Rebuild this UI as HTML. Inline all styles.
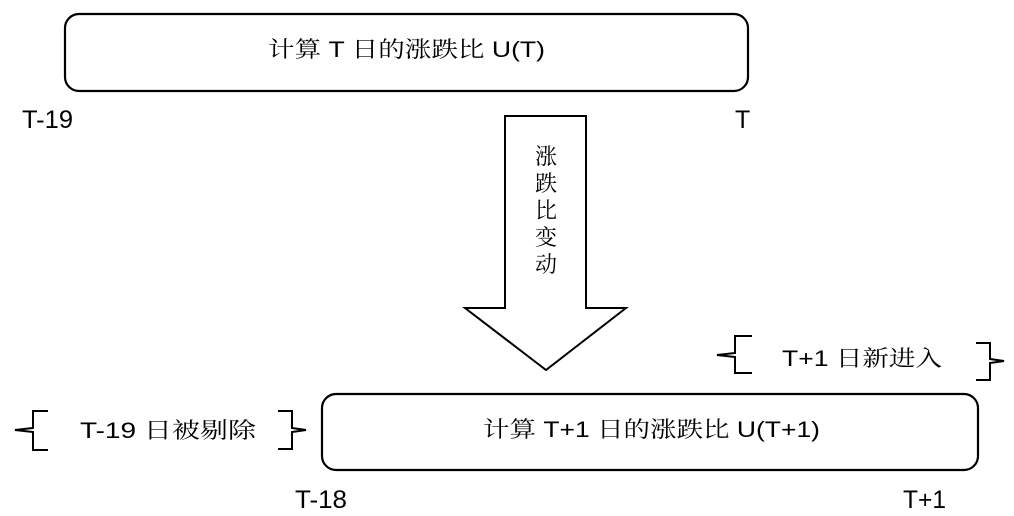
<!DOCTYPE html>
<html><head><meta charset="utf-8"><style>
html,body{margin:0;padding:0;background:#fff;}
svg{display:block;}
text{font-family:"Liberation Sans","Noto Serif CJK SC",sans-serif;font-size:22px;fill:#000;}
.lbl{font-size:25px;}
</style></head><body>
<svg width="1014" height="516" viewBox="0 0 1014 516">
<g fill="none" stroke="#000" stroke-width="2.2">
<rect x="65" y="14" width="683" height="77" rx="14"/>
<rect x="322" y="394" width="656" height="76" rx="14"/>
<polygon points="505,116 586,116 586,308 626,308 546,370 465,308 505,308" stroke-width="2"/>
<path d="M48,411 H33 V428 L15,430 L33,432 V450 H48" stroke-width="2"/>
<path d="M278,411 H292 V428 L306,430 L292,432 V449 H278" stroke-width="2"/>
<path d="M752,336 H735 V353 L717,355 L735,357 V373 H752" stroke-width="2"/>
<path d="M976,343 H990 V359 L1004,361 L990,363 V380 H976" stroke-width="2"/>
</g>
<text x="268" y="57" textLength="277" lengthAdjust="spacingAndGlyphs">计算 T 日的涨跌比 U(T)</text>
<text x="483" y="437" textLength="337" lengthAdjust="spacingAndGlyphs">计算 T+1 日的涨跌比 U(T+1)</text>
<text class="lbl" x="22" y="128" textLength="51" lengthAdjust="spacingAndGlyphs">T-19</text>
<text class="lbl" x="735" y="128">T</text>
<text class="lbl" x="295" y="508" textLength="52" lengthAdjust="spacingAndGlyphs">T-18</text>
<text class="lbl" x="903" y="508" textLength="43" lengthAdjust="spacingAndGlyphs">T+1</text>
<text x="80" y="438" textLength="176" lengthAdjust="spacingAndGlyphs">T-19 日被剔除</text>
<text x="782" y="366" textLength="160" lengthAdjust="spacingAndGlyphs">T+1 日新进入</text>
<g text-anchor="middle">
<text x="546" y="164">涨</text>
<text x="546" y="191">跌</text>
<text x="546" y="218">比</text>
<text x="546" y="245">变</text>
<text x="546" y="272">动</text>
</g>
</svg>
</body></html>
